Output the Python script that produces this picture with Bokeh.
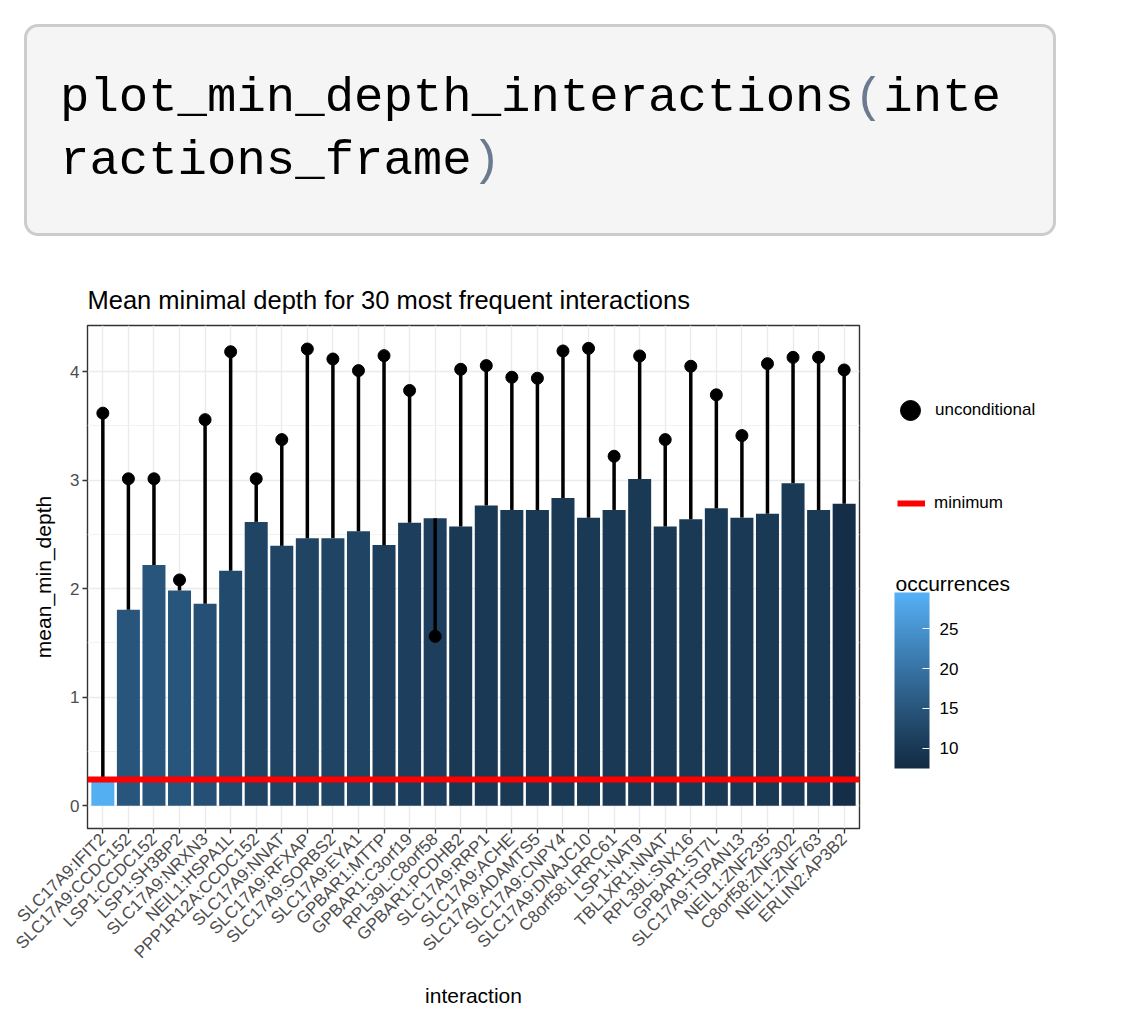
import numpy as np
from bokeh.plotting import figure
from bokeh.models import (ColumnDataSource, FactorRange, Range1d, LinearColorMapper, ColorBar,
                          FixedTicker, Legend, LegendItem, Div, Label)
from bokeh.transform import transform
from bokeh.layouts import column, row
from bokeh.embed import file_html
from bokeh.resources import INLINE

# ---------------- data ----------------
interactions = [
    "SLC17A9:IFIT2", "SLC17A9:CCDC152", "LSP1:CCDC152", "LSP1:SH3BP2", "SLC17A9:NRXN3",
    "NEIL1:HSPA1L", "PPP1R12A:CCDC152", "SLC17A9:NNAT", "SLC17A9:RFXAP", "SLC17A9:SORBS2",
    "SLC17A9:EYA1", "GPBAR1:MTTP", "GPBAR1:C3orf19", "RPL39L:C8orf58", "GPBAR1:PCDHB2",
    "SLC17A9:RRP1", "SLC17A9:ACHE", "SLC17A9:ADAMTS5", "SLC17A9:CNPY4", "SLC17A9:DNAJC10",
    "C8orf58:LRRC61", "LSP1:NAT9", "TBL1XR1:NNAT", "RPL39L:SNX16", "GPBAR1:ST7L",
    "SLC17A9:TSPAN13", "NEIL1:ZNF235", "C8orf58:ZNF302", "NEIL1:ZNF763", "ERLIN2:AP3B2",
]
mean_min_depth = [
    0.245, 1.805, 2.217, 1.982, 1.860, 2.165, 2.615, 2.394, 2.465, 2.465,
    2.529, 2.401, 2.606, 2.648, 2.572, 2.765, 2.725, 2.725, 2.835, 2.654,
    2.725, 3.009, 2.572, 2.639, 2.740, 2.654, 2.691, 2.972, 2.725, 2.783,
]
uncond_mean_min_depth = [
    3.617, 3.012, 3.012, 2.080, 3.557, 4.183, 3.012, 3.373, 4.208, 4.116,
    4.009, 4.147, 3.826, 1.560, 4.021, 4.055, 3.948, 3.939, 4.190, 4.214,
    3.220, 4.144, 3.373, 4.049, 3.786, 3.410, 4.073, 4.131, 4.131, 4.015,
]
occurrences = [
    29, 15, 15, 15, 14, 13, 12, 12, 12, 12,
    12, 11, 11, 11, 10, 10, 10, 10, 10, 10,
    10, 10, 10, 10, 10, 10, 10, 10, 10, 8,
]
minimum = 0.245
y_ticks = [0, 1, 2, 3, 4]
y_minor = [0.5, 1.5, 2.5, 3.5]
cb_ticks = [10, 15, 20, 25]

# ---------------- colour gradient (ggplot default, Lab interpolation) ----------------
def _hex_rgb(h):
    h = h.lstrip("#")
    return np.array([int(h[i:i + 2], 16) / 255 for i in (0, 2, 4)])

def _rgb_lab(c):
    c = np.where(c > 0.04045, ((c + 0.055) / 1.055) ** 2.4, c / 12.92)
    M = np.array([[0.4124, 0.3576, 0.1805], [0.2126, 0.7152, 0.0722], [0.0193, 0.1192, 0.9505]])
    xyz = M @ c / np.array([0.95047, 1.0, 1.08883])
    f = np.where(xyz > 216 / 24389, np.cbrt(xyz), (24389 / 27 * xyz + 16) / 116)
    return np.array([116 * f[1] - 16, 500 * (f[0] - f[1]), 200 * (f[1] - f[2])])

def _lab_hex(lab):
    L, a, b = lab
    fy = (L + 16) / 116
    fx = fy + a / 500
    fz = fy - b / 200
    f = np.array([fx, fy, fz])
    xyz = np.where(f ** 3 > 216 / 24389, f ** 3, (116 * f - 16) / (24389 / 27))
    xyz = xyz * np.array([0.95047, 1.0, 1.08883])
    Mi = np.array([[3.2406, -1.5372, -0.4986], [-0.9689, 1.8758, 0.0415], [0.0557, -0.2040, 1.0570]])
    c = Mi @ xyz
    c = np.where(c > 0.0031308, 1.055 * np.clip(c, 0, None) ** (1 / 2.4) - 0.055, 12.92 * c)
    c = np.clip(c, 0, 1)
    return "#%02x%02x%02x" % tuple(int(round(v * 255)) for v in c)

lo_lab, hi_lab = _rgb_lab(_hex_rgb("#132B43")), _rgb_lab(_hex_rgb("#56B1F7"))
palette = [_lab_hex(lo_lab + (hi_lab - lo_lab) * t) for t in np.linspace(0, 1, 256)]

occ_min, occ_max = min(occurrences), max(occurrences)
half_bin = (occ_max - occ_min) / 40.0
mapper = LinearColorMapper(palette=palette, low=occ_min - half_bin, high=occ_max + half_bin)

# ---------------- sources ----------------
mmd = np.array(mean_min_depth)
umd = np.array(uncond_mean_min_depth)
src = ColumnDataSource(dict(
    interaction=interactions, mean_min_depth=mean_min_depth,
    uncond=uncond_mean_min_depth, occurrences=occurrences,
    lo=list(np.minimum(mmd, umd)), hi=list(np.maximum(mmd, umd)),
))

ymax = max(max(mean_min_depth), max(uncond_mean_min_depth))
ypad = 0.05 * ymax
FONT = "Liberation Sans"
FIG_H = 767
B_TOP, B_BOTTOM = 63, 201

p = figure(
    width=875, height=FIG_H, output_backend="svg", toolbar_location=None,
    x_range=FactorRange(factors=interactions, range_padding=0.2 / len(interactions),
                        range_padding_units="percent"),
    y_range=Range1d(-ypad, ymax + ypad),
    min_border_left=87, min_border_right=16, min_border_top=B_TOP, min_border_bottom=B_BOTTOM,
    title="Mean minimal depth for 30 most frequent interactions",
    x_axis_label="interaction", y_axis_label="mean_min_depth",
)
p.background_fill_color = "white"
p.border_fill_color = "white"
p.outline_line_color = "#333333"
p.outline_line_width = 1.4

p.title.text_font = FONT
p.title.text_font_size = "25.5px"
p.title.text_font_style = "normal"
p.title.text_color = "black"
p.title.align = "left"
p.title.offset = 0
p.title.standoff = 24

p.yaxis.ticker = FixedTicker(ticks=y_ticks, minor_ticks=y_minor)
for ax in (p.xaxis[0], p.yaxis[0]):
    ax.axis_line_color = None
    ax.major_tick_line_color = "#333333"
    ax.major_tick_line_width = 1.4
    ax.major_tick_out = 5
    ax.major_tick_in = 0
    ax.minor_tick_line_color = None
    ax.major_label_text_font = FONT
    ax.major_label_text_font_size = "17px"
    ax.major_label_text_color = "#4d4d4d"
    ax.axis_label_text_font = FONT
    ax.axis_label_text_font_size = "21px"
    ax.axis_label_text_font_style = "normal"
    ax.axis_label_text_color = "black"
p.yaxis.major_label_standoff = 3
p.yaxis.axis_label_standoff = 12
p.xaxis.major_label_orientation = np.pi / 4
p.xaxis.major_label_standoff = 3
p.xaxis.axis_label_standoff = 12

p.xgrid.grid_line_color = "#ebebeb"
p.xgrid.grid_line_width = 1.4
p.ygrid.grid_line_color = "#ebebeb"
p.ygrid.grid_line_width = 1.4
p.ygrid.minor_grid_line_color = "#f2f2f2"
p.ygrid.minor_grid_line_width = 1.0

p.vbar(x="interaction", top="mean_min_depth", bottom=0, width=0.9, source=src,
       fill_color=transform("occurrences", mapper), line_color=None)
p.segment(x0="interaction", y0="lo", x1="interaction", y1="hi", source=src,
          line_color="black", line_width=3.5)
p.scatter(x="interaction", y="uncond", source=src, size=12,
          fill_color="black", line_color="black", line_width=1)
p.hspan(y=[minimum], line_color="#ff0000", line_width=6)

# ---------------- legend panel (separate figure to the right, same frame height) ----------------
lg = figure(width=250, height=FIG_H, output_backend="svg", toolbar_location=None,
            x_range=Range1d(0, 1), y_range=Range1d(0, 1), x_axis_type=None, y_axis_type=None,
            min_border_left=0, min_border_right=0, min_border_top=B_TOP,
            min_border_bottom=B_BOTTOM)
lg.outline_line_color = None
lg.background_fill_color = "white"
lg.border_fill_color = "white"
lg.grid.visible = False

# legend keys only: a NaN point is never drawn in the frame
key_src = ColumnDataSource(dict(x=[float("nan")], y=[float("nan")]))
key_pt = lg.scatter(x="x", y="y", source=key_src, size=12, fill_color="black", line_color="black")
key_ln = lg.line(x="x", y="y", source=key_src, line_color="#ff0000", line_width=6)

leg1 = Legend(items=[LegendItem(label="unconditional", renderers=[key_pt])],
              location=(10, 390), glyph_width=50, glyph_height=56, label_standoff=0,
              padding=0, margin=0, spacing=0, border_line_color=None, background_fill_alpha=0,
              label_text_font=FONT, label_text_font_size="17px", label_text_color="black")
leg2 = Legend(items=[LegendItem(label="minimum", renderers=[key_ln])],
              location=(22, 315), glyph_width=28, glyph_height=20, label_standoff=9,
              padding=0, margin=0, spacing=0, border_line_color=None, background_fill_alpha=0,
              label_text_font=FONT, label_text_font_size="17px", label_text_color="black")
lg.add_layout(leg1)
lg.add_layout(leg2)

cb = ColorBar(color_mapper=mapper, ticker=FixedTicker(ticks=cb_ticks), width=35, height=176,
              location=(19, 60), title=None, padding=0, margin=0, label_standoff=10,
              major_label_text_font=FONT, major_label_text_font_size="17px",
              major_label_text_color="black", major_tick_line_color="white", major_tick_in=7,
              major_tick_out=0, minor_tick_line_color=None, bar_line_color=None,
              background_fill_alpha=0, border_line_color=None)
lg.add_layout(cb)
lg.add_layout(Label(x=20, y=245, x_units="screen", y_units="screen", text="occurrences",
                    text_font=FONT, text_font_size="21px", text_color="black",
                    text_baseline="alphabetic"))

code_html = (
    '<div style="padding:24px 0 0 24px;">'
    '<div style="width:1032px;height:212px;box-sizing:border-box;border:3px solid #cccccc;'
    'border-radius:14px;background:#f5f5f5;padding:40px 0 0 33px;">'
    '<div style="font-family:\'Liberation Mono\',monospace;font-size:49px;line-height:63px;'
    'color:#000;white-space:pre;">plot_min_depth_interactions<span style="color:#6b7a8f">(</span>inte<br>'
    'ractions_frame<span style="color:#6b7a8f">)</span></div></div></div>'
)
code = Div(text=code_html, width=1125, height=262, margin=0)

layout = column(code, row(p, lg, spacing=0), spacing=0)
open("out.html", "w").write(file_html(layout, INLINE))
